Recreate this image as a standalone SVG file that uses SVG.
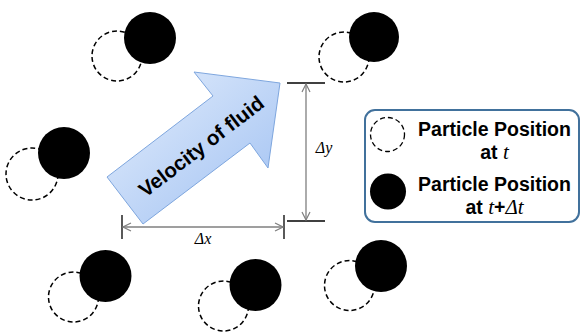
<svg xmlns="http://www.w3.org/2000/svg" width="581" height="332" viewBox="0 0 581 332">
<style>
.dash{fill:none;stroke:#000;stroke-width:1.5;stroke-dasharray:5,3}
.solid{fill:#000}
.dim{stroke:#7f7f7f;stroke-width:1.3;fill:none}
.tick{stroke:#000;stroke-width:1.3}
.lbl{font-family:"Liberation Serif",serif;font-style:italic;font-size:16px;fill:#000}
.leg{font-family:"Liberation Sans",Arial,sans-serif;font-weight:bold;font-size:19.5px;fill:#000}
.it{font-family:"Liberation Serif",serif;font-style:italic;font-weight:normal;font-size:21px}
</style>
<defs>
<linearGradient id="g" x1="0" y1="0" x2="1" y2="1">
<stop offset="0" stop-color="#e4eefc"/>
<stop offset="1" stop-color="#9fc0f2"/>
</linearGradient>
<marker id="ah" markerWidth="10" markerHeight="10" refX="9" refY="5" orient="auto-start-reverse" markerUnits="userSpaceOnUse">
<path d="M1,1 L9,5 L1,9" fill="none" stroke="#7f7f7f" stroke-width="1.2"/>
</marker>
</defs>
<g id="p1"><circle class="dash" cx="117" cy="56" r="25"/><circle class="solid" cx="150" cy="38" r="26"/></g>
<g id="p2"><circle class="dash" cx="344" cy="57" r="25"/><circle class="solid" cx="374" cy="37" r="25"/></g>
<g id="p3"><circle class="dash" cx="32" cy="174" r="26"/><circle class="solid" cx="64" cy="153" r="26"/></g>
<g id="p4"><circle class="dash" cx="73.5" cy="297" r="25"/><circle class="solid" cx="105.5" cy="276" r="26"/></g>
<g id="p5"><circle class="dash" cx="223.5" cy="306" r="25"/><circle class="solid" cx="255.5" cy="285" r="26"/></g>
<g id="p6"><circle class="dash" cx="349.5" cy="285.5" r="25"/><circle class="solid" cx="381" cy="266" r="26"/></g>
<g id="velocity">
<path d="M107,177 L213,96 L194,72 L280,83 L268,168 L250,143 L143,224 Z" fill="url(#g)" stroke="#7ea6de" stroke-width="1"/>
<text x="201" y="146" transform="rotate(-37.4 201 146)" text-anchor="middle" dominant-baseline="central" style="font-family:'Liberation Sans',Arial,sans-serif;font-weight:bold;font-size:20.5px">Velocity of fluid</text>
</g>
<g id="connectors">
<line class="tick" x1="122" y1="215" x2="122" y2="239"/>
<line class="tick" x1="284" y1="215" x2="284" y2="239"/>
<line class="dim" x1="123" y1="227" x2="283" y2="227" marker-start="url(#ah)" marker-end="url(#ah)"/>
<line class="tick" x1="287" y1="83" x2="325" y2="83"/>
<line class="tick" x1="287" y1="221" x2="325" y2="221"/>
<line class="dim" x1="306" y1="84" x2="306" y2="220" marker-start="url(#ah)" marker-end="url(#ah)"/>
<text class="lbl" x="203" y="244" text-anchor="middle">Δx</text>
<text class="lbl" x="324" y="153" text-anchor="middle">Δy</text>
</g>
<g id="legend">
<rect x="365" y="110" width="214" height="112" rx="10" fill="#fff" stroke="#41719c" stroke-width="2"/>
<circle class="dash" cx="387.5" cy="134.5" r="17" style="stroke-width:1.3"/>
<circle class="solid" cx="388" cy="191.5" r="18"/>
<text class="leg" x="494.5" y="136" text-anchor="middle">Particle Position</text>
<text class="leg" x="494.5" y="159" text-anchor="middle">at <tspan class="it">t</tspan></text>
<text class="leg" x="494.5" y="191" text-anchor="middle">Particle Position</text>
<text class="leg" x="494.5" y="214" text-anchor="middle">at <tspan class="it">t</tspan>+<tspan class="it">Δt</tspan></text>
</g>
</svg>
